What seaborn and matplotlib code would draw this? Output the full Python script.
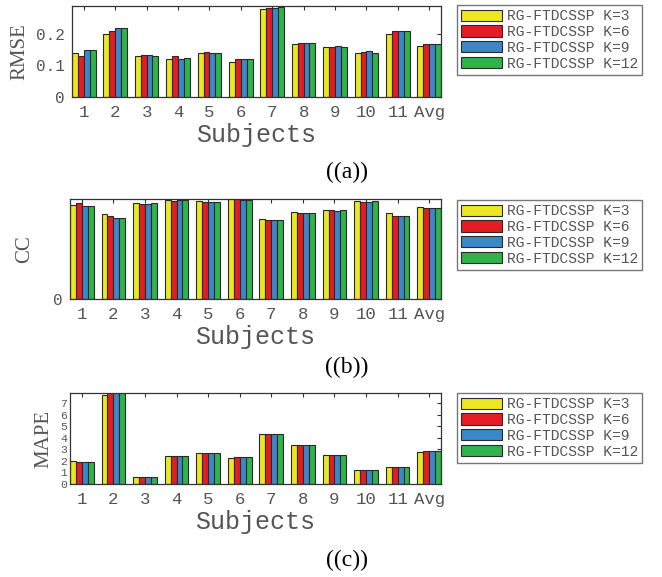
import numpy as np
import pandas as pd
import matplotlib
matplotlib.use("Agg")
import matplotlib.pyplot as plt
import seaborn as sns

subjects = ["1", "2", "3", "4", "5", "6", "7", "8", "9", "10", "11", "Avg"]
methods = ["RG-FTDCSSP K=3", "RG-FTDCSSP K=6", "RG-FTDCSSP K=9", "RG-FTDCSSP K=12"]

rmse_k3 = [0.140, 0.200, 0.130, 0.120, 0.140, 0.110, 0.277, 0.168, 0.159, 0.140, 0.199, 0.161]
rmse_k6 = [0.130, 0.208, 0.132, 0.130, 0.142, 0.119, 0.283, 0.170, 0.159, 0.141, 0.208, 0.168]
rmse_k9 = [0.150, 0.218, 0.132, 0.121, 0.140, 0.119, 0.283, 0.170, 0.161, 0.145, 0.208, 0.168]
rmse_k12 = [0.150, 0.218, 0.130, 0.124, 0.140, 0.119, 0.286, 0.170, 0.158, 0.140, 0.208, 0.168]

cc_k3 = [0.943, 0.849, 0.957, 0.993, 0.977, 1.000, 0.803, 0.870, 0.890, 0.977, 0.856, 0.920]
cc_k6 = [0.957, 0.829, 0.953, 0.983, 0.973, 0.997, 0.793, 0.863, 0.886, 0.973, 0.833, 0.910]
cc_k9 = [0.930, 0.809, 0.953, 0.993, 0.973, 0.993, 0.793, 0.863, 0.883, 0.973, 0.833, 0.910]
cc_k12 = [0.930, 0.809, 0.957, 0.990, 0.973, 0.993, 0.789, 0.863, 0.890, 0.977, 0.833, 0.910]

mape_k3 = [2.00, 7.73, 0.64, 2.41, 2.65, 2.24, 4.33, 3.37, 2.53, 1.22, 1.48, 2.76]
mape_k6 = [1.95, 8.10, 0.64, 2.41, 2.70, 2.35, 4.33, 3.37, 2.56, 1.22, 1.48, 2.85]
mape_k9 = [1.95, 8.10, 0.64, 2.41, 2.70, 2.38, 4.33, 3.37, 2.56, 1.22, 1.48, 2.85]
mape_k12 = [1.95, 8.10, 0.64, 2.41, 2.70, 2.38, 4.33, 3.37, 2.56, 1.22, 1.48, 2.85]

colors = ["#ebe822", "#e51c24", "#3a88c8", "#2fb34a"]
gray = "#555555"
mono = "Liberation Mono"
serif = "Liberation Serif"


def long_df(series):
    rows = []
    for m, vals in zip(methods, series):
        for s, v in zip(subjects, vals):
            rows.append({"Subject": s, "Method": m, "Value": v})
    return pd.DataFrame(rows)


sns.set_style("white")
fig = plt.figure(figsize=(6.62, 5.77), dpi=100)
W, H = 662.0, 577.0


def axes_px(left, top, right, bottom):
    return fig.add_axes([left / W, 1 - bottom / H, (right - left) / W, (bottom - top) / H])


panels = [
    dict(box=(72, 6, 441, 97), data=[rmse_k3, rmse_k6, rmse_k9, rmse_k12], ylabel="RMSE",
         ylim=0.288, yticks=[0, 0.1, 0.2], yticklabels=["0", "0.1", "0.2"],
         leg=(457, 5), cap="((a))", capy=172),
    dict(box=(70, 199, 441, 299), data=[cc_k3, cc_k6, cc_k9, cc_k12], ylabel="CC",
         ylim=1.0, yticks=[0], yticklabels=["0"],
         leg=(457, 200), cap="((b))", capy=367),
    dict(box=(70, 393, 441, 484), data=[mape_k3, mape_k6, mape_k9, mape_k12], ylabel="MAPE",
         ylim=7.9, yticks=list(range(8)), yticklabels=[str(i) for i in range(8)],
         leg=(457, 393), cap="((c))", capy=560),
]

for i, p in enumerate(panels):
    ax = axes_px(*p["box"])
    df = long_df(p["data"])
    sns.barplot(data=df, x="Subject", y="Value", hue="Method", order=subjects,
                hue_order=methods, palette=colors, saturation=1, width=0.75, gap=0,
                edgecolor="#2a2a2a", linewidth=0.8, errorbar=None, ax=ax)
    handles, labels = ax.get_legend_handles_labels()
    ax.get_legend().remove()
    ax.set_xlim(-0.375, 11.375)
    ax.set_ylim(0, p["ylim"])
    ax.set_yticks(p["yticks"])
    small = i == 2
    ax.set_yticklabels(p["yticklabels"], fontfamily=mono, fontsize=8.2 if small else 11.5,
                       color=gray)
    ax.set_xticks(range(len(subjects)))
    ax.set_xticklabels(subjects, fontfamily=mono, fontsize=12.5, color=gray)
    ax.tick_params(direction="in", top=True, right=True, length=3, width=0.8,
                   color="#333333", pad=2 if small else 5)
    ax.tick_params(axis="x", pad=6)
    for sp in ax.spines.values():
        sp.set_color("#333333")
        sp.set_linewidth(0.9)
    ax.set_ylabel(p["ylabel"], fontfamily=serif, fontsize=15, color=gray,
                  labelpad=5 if i != 1 else 14)
    ax.set_xlabel("Subjects", fontfamily=mono, fontsize=18, color=gray, labelpad=2)

    lx, ly = p["leg"]
    leg = fig.legend(handles, labels, loc="upper left",
                     bbox_to_anchor=(lx / W, 1 - ly / H), frameon=True, fancybox=False,
                     prop={"family": mono, "size": 10.5}, handlelength=2.8,
                     handleheight=0.8, handletextpad=0.3, labelspacing=0.12,
                     borderpad=0.3, borderaxespad=0)
    leg.get_frame().set_edgecolor("#555555")
    leg.get_frame().set_linewidth(1.0)
    for t in leg.get_texts():
        t.set_color(gray)

    fig.text(347 / W, 1 - p["capy"] / H, p["cap"], fontfamily=serif, fontsize=17,
             ha="center", va="center", color="black")

fig.savefig("out.png", dpi=100)
